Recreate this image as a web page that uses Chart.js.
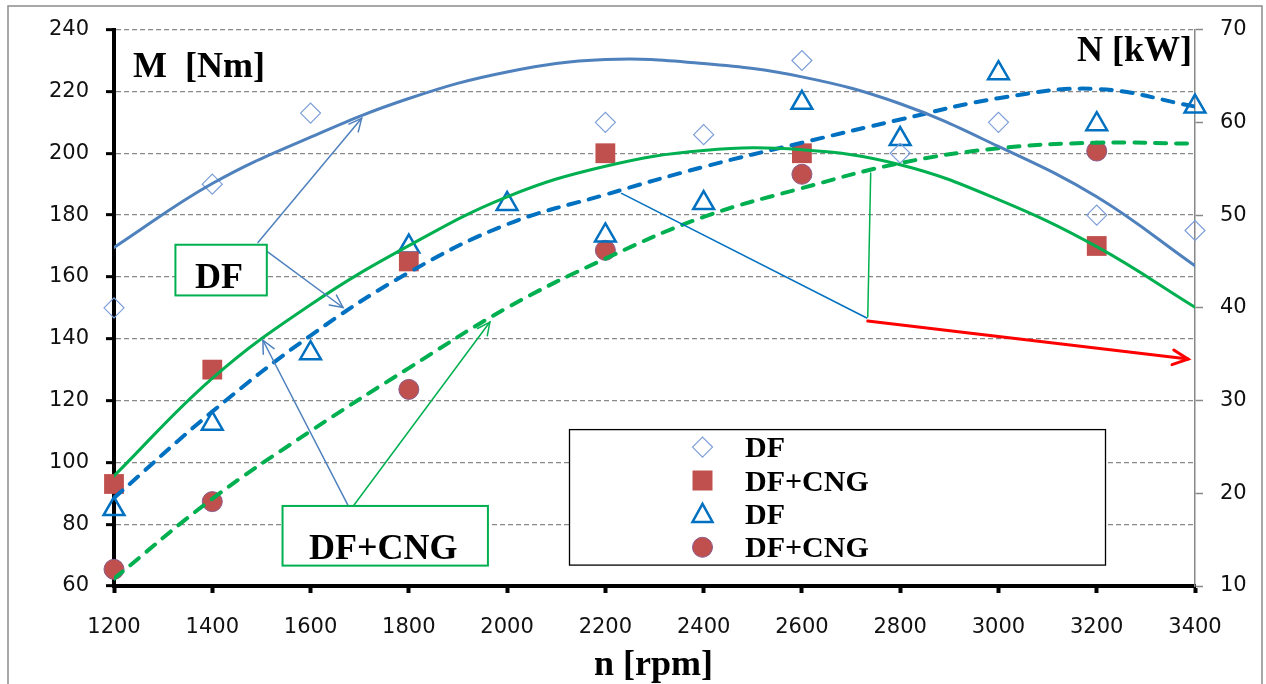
<!DOCTYPE html>
<html>
<head>
<meta charset="utf-8">
<script src="https://cdn.jsdelivr.net/npm/chart.js@4.4.0/dist/chart.umd.min.js"></script>
<style>
    html, body { margin: 0; padding: 0; background: #fff; }
    #wrap { width: 1266px; height: 684px; position: relative; }
</style>
</head>
<body>
<div id="wrap"><canvas id="chart" width="1266" height="684"></canvas></div>
<script>
// Engine speed [rpm]
const rpm = [1200, 1400, 1600, 1800, 2000, 2200, 2400, 2600, 2800, 3000, 3200, 3400];

// Measured points (null = no marker at that speed)
const torqueDF  = [150, 190, 213, null, null, 210, 206, 230, 200, 210, 180, 175];     // M [Nm], diamonds
const torqueCNG = [93, 130, null, 165, null, 200, null, 200, null, null, 170, null];  // M [Nm], squares
const powerDF   = [18.3, 27.5, 35.1, 46.6, 51.2, 47.8, 51.3, 62.1, 58.2, 65.3, 59.8, 61.7]; // N [kW], triangles
const powerCNG  = [11.8, 19.1, null, 31.2, null, 46.2, null, 54.4, null, null, 56.9, null]; // N [kW], circles

// Trend curves
const trendTorqueDF  = [169.5, 190.2, 205.2, 217.7, 226.3, 230.3, 229.0, 224.7, 216.0, 202.2, 185.9, 163.6];
const trendTorqueCNG = [95.6, 127.2, 151.0, 170.1, 185.9, 195.8, 200.9, 201.1, 196.3, 185.0, 169.8, 150.2];
const trendPowerDF   = [19.5, 28.8, 37.0, 43.8, 49.0, 52.2, 55.2, 57.8, 60.3, 62.6, 63.6, 61.7];
const trendPowerCNG  = [10.8, 19.4, 26.7, 33.5, 40.0, 45.3, 49.8, 52.9, 55.6, 57.2, 57.8, 57.7];

// Tick settings
const torqueTicks = { min: 60, max: 240, step: 20 };
const powerTicks = { min: 10, max: 70, step: 10 };
const rpmTicks = { min: 1200, max: 3400, step: 200 };

// Labels
const legendLabels = ['DF', 'DF+CNG', 'DF', 'DF+CNG'];
const boxLabels = ['DF', 'DF+CNG'];

// Annotation boxes and pointer lines, in data units (rpm, Nm)
const boxDF  = [1325, 170.4, 1511, 154.0];
const boxCNG = [1543, 85.9, 1961, 66.6];
const pointers = [
    // [x1, y1, x2, y2, color, width, arrow]
    [1493, 171.1, 1704, 211.3, '#4f81bd', 1.5, true],
    [1510, 168.4, 1666, 150.1, '#4f81bd', 1.5, true],
    [1681, 84.6, 1503, 139.5, '#4f81bd', 1.5, true],
    [1681, 84.6, 1965, 145.4, '#00b050', 1.5, true],
    [2233, 187.0, 2732, 146.7, '#0070c0', 1.5, false],
    [2740, 193.6, 2734, 147.0, '#00b050', 1.5, false],
    [2734, 145.7, 3386, 133.4, '#ff0000', 3, true]
];

const COL_DIAMOND = '#7c9ed8';
const COL_SQUARE = '#c0504d';
const COL_TRI = '#0070c0';
const COL_BLUE = '#4f81bd';
const COL_GREEN = '#00b050';

function pairs(ys) {
    return rpm.map((x, i) => ({ x: x, y: ys[i] })).filter(p => p.y !== null);
}

function markerSet(label, ys, axis, style) {
    return Object.assign({
        label: label,
        data: pairs(ys),
        yAxisID: axis,
        showLine: false,
        clip: false,
        order: 2
    }, style);
}

function trendSet(ys, axis, color, dash) {
    return {
        label: 'trend',
        data: pairs(ys),
        yAxisID: axis,
        showLine: true,
        borderColor: color,
        borderWidth: dash ? 4 : 3,
        borderDash: dash || [],
        borderCapStyle: 'round',
        pointRadius: 0,
        tension: 0.4,
        order: 1
    };
}

// Draw one legend marker by hand
function drawMarker(ctx, kind, x, y) {
    ctx.save();
    ctx.beginPath();
    if (kind === 'diamond') {
        ctx.moveTo(x - 10, y); ctx.lineTo(x, y - 10); ctx.lineTo(x + 10, y); ctx.lineTo(x, y + 10); ctx.closePath();
        ctx.strokeStyle = COL_DIAMOND; ctx.lineWidth = 1.2; ctx.stroke();
    } else if (kind === 'square') {
        ctx.rect(x - 10, y - 10, 20, 20);
        ctx.fillStyle = COL_SQUARE; ctx.fill();
    } else if (kind === 'triangle') {
        ctx.moveTo(x, y - 10); ctx.lineTo(x + 10, y + 8); ctx.lineTo(x - 10, y + 8); ctx.closePath();
        ctx.strokeStyle = COL_TRI; ctx.lineWidth = 2.5; ctx.stroke();
    } else {
        ctx.arc(x, y, 10, 0, Math.PI * 2);
        ctx.fillStyle = COL_SQUARE; ctx.fill();
        ctx.strokeStyle = '#8a5a8a'; ctx.lineWidth = 1; ctx.stroke();
    }
    ctx.restore();
}

function arrowHead(ctx, x1, y1, x2, y2, len) {
    const a = Math.atan2(y2 - y1, x2 - x1);
    ctx.beginPath();
    ctx.moveTo(x2 - len * Math.cos(a - 0.45), y2 - len * Math.sin(a - 0.45));
    ctx.lineTo(x2, y2);
    ctx.lineTo(x2 - len * Math.cos(a + 0.45), y2 - len * Math.sin(a + 0.45));
    ctx.stroke();
}

// White page with a thin grey frame
const framePlugin = {
    id: 'frame',
    beforeDraw(chart) {
        const ctx = chart.ctx;
        ctx.save();
        ctx.fillStyle = '#fff';
        ctx.fillRect(0, 0, chart.width, chart.height);
        ctx.strokeStyle = '#8c8c8c';
        ctx.lineWidth = 1.5;
        ctx.strokeRect(8, 6, chart.width - 12, chart.height + 20);
        ctx.restore();
    }
};

// Titles, annotation boxes, pointer arrows and the boxed legend
const annotationPlugin = {
    id: 'annotations',
    afterDatasetsDraw(chart) {
        const ctx = chart.ctx;
        const sx = chart.scales.x, sy = chart.scales.y;
        const area = chart.chartArea;
        const px = v => sx.getPixelForValue(v);
        const py = v => sy.getPixelForValue(v);

        ctx.save();

        // pointer lines
        pointers.forEach(p => {
            const x1 = px(p[0]), y1 = py(p[1]), x2 = px(p[2]), y2 = py(p[3]);
            ctx.strokeStyle = p[4];
            ctx.lineWidth = p[5];
            ctx.lineCap = 'round';
            ctx.beginPath();
            ctx.moveTo(x1, y1);
            ctx.lineTo(x2, y2);
            ctx.stroke();
            if (p[6]) arrowHead(ctx, x1, y1, x2, y2, p[5] > 2 ? 17 : 14);
        });

        // green boxes
        [boxDF, boxCNG].forEach((b, i) => {
            const x1 = px(b[0]), y1 = py(b[1]), x2 = px(b[2]), y2 = py(b[3]);
            ctx.fillStyle = '#fff';
            ctx.fillRect(x1, y1, x2 - x1, y2 - y1);
            ctx.strokeStyle = COL_GREEN;
            ctx.lineWidth = 2;
            ctx.strokeRect(x1, y1, x2 - x1, y2 - y1);
            ctx.fillStyle = '#000';
            ctx.font = 'bold 36px "Liberation Serif"';
            ctx.textAlign = 'center';
            ctx.textBaseline = 'alphabetic';
            ctx.fillText(boxLabels[i], (x1 + x2) / 2 - 2, y2 - 7);
        });

        // legend
        const lx = area.left + 455.5, ly = area.top + 400;
        ctx.fillStyle = '#fff';
        ctx.fillRect(lx, ly, 536, 135.5);
        ctx.strokeStyle = '#000';
        ctx.lineWidth = 1.3;
        ctx.strokeRect(lx, ly, 536, 135.5);
        const kinds = ['diamond', 'square', 'triangle', 'circle'];
        ctx.font = 'bold 30px "Liberation Serif"';
        ctx.textAlign = 'left';
        ctx.textBaseline = 'alphabetic';
        kinds.forEach((k, i) => {
            const cy = ly + 17.5 + i * 33.4;
            drawMarker(ctx, k, lx + 133, cy);
            ctx.fillStyle = '#000';
            ctx.fillText(legendLabels[i], lx + 175.5, cy + 10);
        });

        // axis titles
        ctx.fillStyle = '#000';
        ctx.font = 'bold 36px "Liberation Serif"';
        ctx.textAlign = 'left';
        ctx.fillText('M  [Nm]', area.left + 19, area.top + 47.5);
        ctx.textAlign = 'right';
        ctx.fillText('N [kW]', area.right - 3, area.top + 31);
        ctx.textAlign = 'center';
        ctx.fillText('n [rpm]', (area.left + area.right) / 2 - 1, chart.height - 9);

        ctx.restore();
    }
};

const tickFont = { family: 'DejaVu Sans', size: 21 };

const ctx = document.getElementById('chart').getContext('2d');
const chart = new Chart(ctx, {
    type: 'scatter',
    data: {
        datasets: [
            trendSet(trendTorqueDF, 'y', COL_BLUE, null),
            trendSet(trendTorqueCNG, 'y', COL_GREEN, null),
            trendSet(trendPowerDF, 'y2', COL_TRI, [11, 10]),
            trendSet(trendPowerCNG, 'y2', COL_GREEN, [11, 10]),
            markerSet(legendLabels[0], torqueDF, 'y', {
                pointStyle: 'rectRot', pointRadius: 10, pointBorderWidth: 1.2,
                pointBorderColor: COL_DIAMOND, pointBackgroundColor: 'rgba(0,0,0,0)'
            }),
            markerSet(legendLabels[1], torqueCNG, 'y', {
                pointStyle: 'rect', pointRadius: 14, pointBorderWidth: 0,
                pointBorderColor: COL_SQUARE, pointBackgroundColor: COL_SQUARE
            }),
            markerSet(legendLabels[2], powerDF, 'y2', {
                pointStyle: 'triangle', pointRadius: 12, pointBorderWidth: 2.5,
                pointBorderColor: COL_TRI, pointBackgroundColor: 'rgba(0,0,0,0)'
            }),
            markerSet(legendLabels[3], powerCNG, 'y2', {
                pointStyle: 'circle', pointRadius: 10, pointBorderWidth: 1,
                pointBorderColor: '#8a5a8a', pointBackgroundColor: COL_SQUARE
            })
        ]
    },
    options: {
        responsive: false,
        animation: false,
        events: [],
        layout: { padding: { top: 26, left: 0, right: 0, bottom: 0 } },
        plugins: {
            legend: { display: false },
            tooltip: { enabled: false }
        },
        scales: {
            x: {
                type: 'linear',
                min: rpmTicks.min,
                max: rpmTicks.max,
                afterFit: s => { s.height = 98; },
                ticks: {
                    stepSize: rpmTicks.step,
                    autoSkip: false,
                    maxRotation: 0,
                    color: '#111',
                    font: tickFont,
                    padding: 22,
                    callback: v => String(v)
                },
                grid: { drawOnChartArea: false, drawTicks: true, tickLength: 7, tickWidth: 4, tickColor: '#000' },
                border: { color: '#000', width: 4 }
            },
            y: {
                position: 'left',
                min: torqueTicks.min,
                max: torqueTicks.max,
                afterFit: s => { s.width = 114; },
                ticks: { stepSize: torqueTicks.step, color: '#111', font: tickFont, padding: 17 },
                grid: { color: '#888', lineWidth: 1.3, tickLength: 8, tickWidth: 3, tickColor: '#000' },
                border: { color: '#000', width: 4, dash: [5, 3] }
            },
            y2: {
                position: 'right',
                min: powerTicks.min,
                max: powerTicks.max,
                afterFit: s => { s.width = 71; },
                ticks: { stepSize: powerTicks.step, color: '#111', font: tickFont, padding: 17 },
                grid: { drawOnChartArea: false, tickLength: 8, tickWidth: 1.5, tickColor: '#888' },
                border: { color: '#888', width: 1.5 }
            }
        }
    },
    plugins: [framePlugin, annotationPlugin]
});
</script>
</body>
</html>
